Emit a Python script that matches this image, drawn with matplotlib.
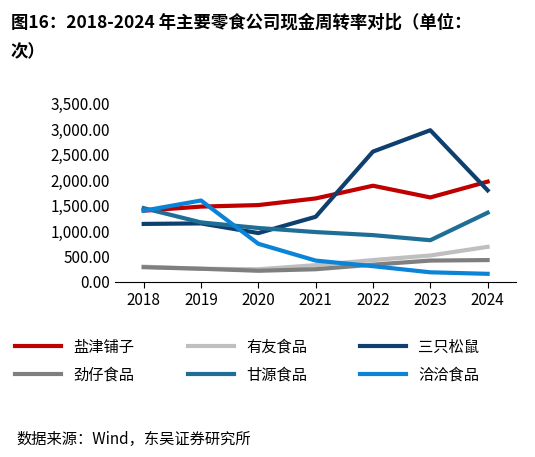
import matplotlib
matplotlib.use('Agg')
import matplotlib.pyplot as plt

plt.rcParams['font.family'] = ['Noto Sans CJK SC', 'DejaVu Sans']

years = ['2018', '2019', '2020', '2021', '2022', '2023', '2024']
yanjin = [1400, 1480, 1510, 1640, 1890, 1660, 1970]
youyou = [300, 260, 250, 330, 430, 520, 690]
sanzhi = [1140, 1150, 960, 1280, 2560, 2980, 1800]
jinzai = [290, 260, 220, 250, 340, 420, 430]
ganyuan = [1450, 1170, 1060, 980, 920, 820, 1360]
qiaqia = [1400, 1600, 750, 420, 310, 190, 160]

fig = plt.figure(figsize=(5.35, 4.57), dpi=100)
ax = fig.add_axes([0.215, 0.383, 0.75, 0.39])

x = range(len(years))
lw = 3
h1, = ax.plot(x, yanjin, color='#C00000', lw=lw, label='盐津铺子')
h2, = ax.plot(x, youyou, color='#BFBFBF', lw=lw, label='有友食品')
h3, = ax.plot(x, sanzhi, color='#0E3F6E', lw=lw, label='三只松鼠')
h4, = ax.plot(x, jinzai, color='#7F7F7F', lw=lw, label='劲仔食品')
h5, = ax.plot(x, ganyuan, color='#1F6E95', lw=lw, label='甘源食品')
h6, = ax.plot(x, qiaqia, color='#0B84D8', lw=lw, label='洽洽食品')

ax.set_ylim(0, 3500)
ax.set_yticks(range(0, 3501, 500))
ax.set_yticklabels(['{:,.2f}'.format(v) for v in range(0, 3501, 500)], fontsize=11)
ax.set_xlim(-0.5, 6.5)
ax.set_xticks(list(x))
ax.set_xticklabels(years, fontsize=11)
for s in ['top', 'right', 'left']:
    ax.spines[s].set_visible(False)
ax.tick_params(axis='y', length=0)
ax.tick_params(axis='x', length=4, direction='out')

hs = [h1, h4, h2, h5, h3, h6]
ax.legend(hs, [h.get_label() for h in hs], loc='upper center', bbox_to_anchor=(0.33, -0.24),
          ncol=3, frameon=False, fontsize=11, handlelength=3, columnspacing=3.5,
          labelspacing=0.7)

fig.text(0.02, 0.97, '图16：2018-2024 年主要零食公司现金周转率对比（单位：', fontsize=12.5,
         fontweight='bold', va='top')
fig.text(0.02, 0.905, '次）', fontsize=12.5, fontweight='bold', va='top')
fig.text(0.03, 0.02, '数据来源：Wind，东吴证券研究所', fontsize=11, va='bottom')

plt.savefig('out.png')
